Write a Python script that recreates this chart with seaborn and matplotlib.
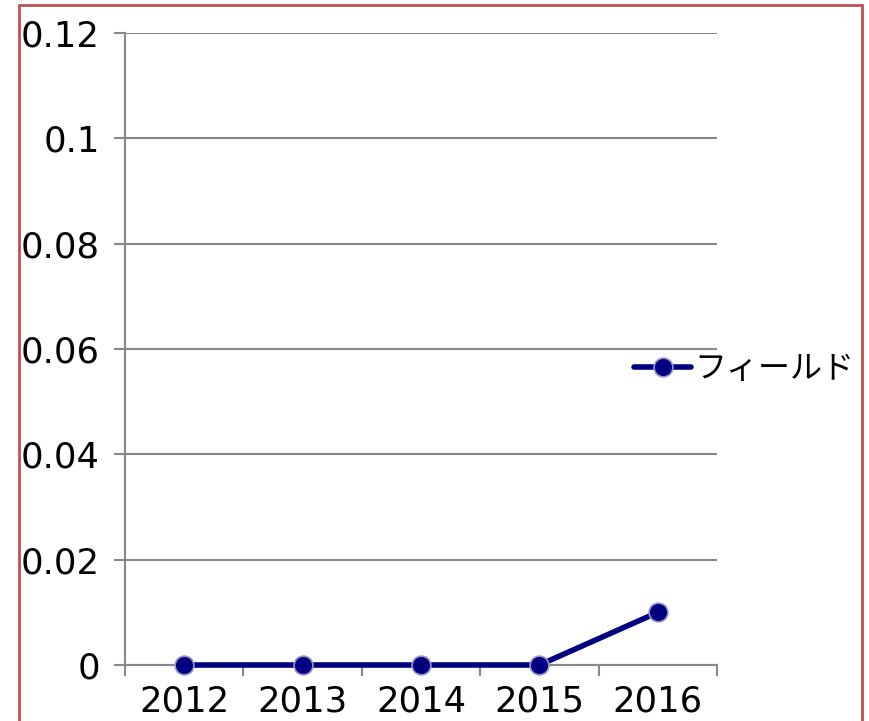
import matplotlib
matplotlib.use("Agg")
import matplotlib.pyplot as plt
import seaborn as sns
import pandas as pd
import numpy as np
from matplotlib.patches import Rectangle

years = ["2012", "2013", "2014", "2015", "2016"]
values = [0, 0, 0, 0, 0.01]
series_name = "フィールド"
yticks = [0, 0.02, 0.04, 0.06, 0.08, 0.1, 0.12]
ytick_labels = ["0", "0.02", "0.04", "0.06", "0.08", "0.1", "0.12"]

sns.set_theme(style="white")
plt.rcParams['font.family'] = ['Noto Sans CJK JP', 'DejaVu Sans']

df = pd.DataFrame({"idx": np.arange(len(years)), "value": values, "series": series_name})

fig = plt.figure(figsize=(8.7, 7.21), dpi=100)
ax = fig.add_axes([125/870, 56/721, (717-125)/870, (665-33)/721])

sns.lineplot(data=df, x="idx", y="value", hue="series", palette=["#000080"],
             marker="o", markersize=13.5, markeredgecolor="#9c94c8", markeredgewidth=1.2,
             linewidth=4, ax=ax, legend=True, zorder=5, clip_on=False)

ax.set_xlim(-0.5, len(years) - 0.5)
ax.set_ylim(0, 0.12)
ax.set_yticks(yticks)
ax.set_yticklabels(ytick_labels)
ax.set_xticks(np.arange(len(years)))
ax.set_xticklabels(years)
ax.set_xticks(np.arange(len(years) + 1) - 0.5, minor=True)
ax.tick_params(axis="x", which="major", length=0, pad=14, labelsize=25.5, labelcolor="black")
ax.tick_params(axis="x", which="minor", length=8, width=1.5, color="#888888", direction="out", bottom=True)
ax.tick_params(axis="y", which="major", length=8, width=1.5, color="#888888", pad=10, labelsize=25.5,
               labelcolor="black", left=True)
for lbl in ax.get_xticklabels() + ax.get_yticklabels():
    lbl.set_family(['DejaVu Sans'])
ax.set_xlabel("")
ax.set_ylabel("")
ax.grid(axis="y", color="#888888", linewidth=1.5)
ax.grid(axis="x", visible=False)
for s in ["top", "right"]:
    ax.spines[s].set_visible(False)
for s in ["left", "bottom"]:
    ax.spines[s].set_color("#888888")
    ax.spines[s].set_linewidth(1.5)

handles, labels = ax.get_legend_handles_labels()
leg = ax.legend(handles=handles, labels=labels, loc="center left",
                bbox_to_anchor=(634/870, 1 - 369/721), bbox_transform=fig.transFigure,
                frameon=False, fontsize=23, handlelength=1.8, handletextpad=0.1,
                borderaxespad=0, borderpad=0)
for t in leg.get_texts():
    t.set_color("black")

fig.patches.append(Rectangle((19/870, -0.1), (862-19)/870, 1.1 - 5/721,
                             transform=fig.transFigure, fill=False,
                             edgecolor="#c0504d", linewidth=2, zorder=10))

fig.savefig("out.png", dpi=100)
